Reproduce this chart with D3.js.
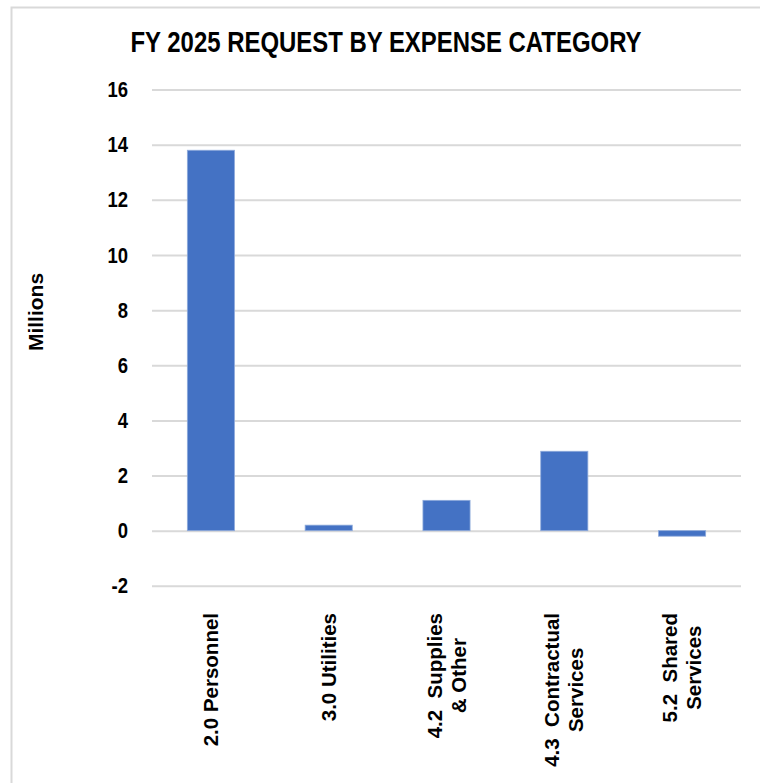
<!DOCTYPE html>
<html>
<head>
<meta charset="utf-8">
<script src="https://cdn.jsdelivr.net/npm/d3@7"></script>
<style>
  html, body { margin: 0; padding: 0; background: #fff; }
  svg { display: block; }
  text { white-space: pre; }
</style>
</head>
<body>
<svg id="chart" width="760" height="783"></svg>
<script>
// FY 2025 request, millions of dollars, by expense category
const categories = [
  ["2.0 Personnel"],
  ["3.0 Utilities"],
  ["4.2  Supplies", "& Other"],
  ["4.3  Contractual", "Services"],
  ["5.2  Shared", "Services"]
];
const values = [13.8, 0.2, 1.1, 2.88, -0.2];
const yTicks = [-2, 0, 2, 4, 6, 8, 10, 12, 14, 16];
const titleText = "FY 2025 REQUEST BY EXPENSE CATEGORY";
const yAxisTitle = "Millions";

const svg = d3.select("#chart");
const W = 760, H = 783;
const plot = { left: 152, right: 741, top: 89.6, bottom: 585.8 };

const narrow = "'Liberation Sans Narrow','Arial Narrow','Liberation Sans',Arial,sans-serif";
const regular = "'Liberation Sans',Arial,Helvetica,sans-serif";

// squeeze a text element horizontally to a condensed width
function condense(sel, factor) {
  sel.each(function () {
    const len = this.getComputedTextLength();
    d3.select(this)
      .attr("textLength", len * factor)
      .attr("lengthAdjust", "spacingAndGlyphs");
  });
}

svg.append("rect").attr("width", W).attr("height", H).attr("fill", "#fff");

// outer frame (left and top edges visible)
svg.append("path")
  .attr("d", `M11.5,${H} V7.5 H${W}`)
  .attr("fill", "none")
  .attr("stroke", "#d9d9d9")
  .attr("stroke-width", 2);

const x = d3.scaleBand()
  .domain(d3.range(categories.length))
  .range([plot.left, plot.right])
  .paddingInner(0.6)
  .paddingOuter(0.3);

const y = d3.scaleLinear()
  .domain([-2, 16])
  .range([plot.bottom, plot.top]);

// horizontal gridlines with value labels
const yAxis = d3.axisLeft(y)
  .tickValues(yTicks)
  .tickSize(-(plot.right - plot.left))
  .tickPadding(24)
  .tickFormat(d => String(d));

const gy = svg.append("g")
  .attr("transform", `translate(${plot.left},0)`)
  .call(yAxis);
gy.select(".domain").remove();
gy.selectAll(".tick line")
  .attr("stroke", "#d9d9d9")
  .attr("stroke-width", 2);
gy.selectAll(".tick text")
  .attr("fill", "#000")
  .style("font-family", narrow)
  .style("font-weight", "bold")
  .style("font-size", "22px")
  .call(condense, 0.84);

// bars
svg.append("g").selectAll("rect")
  .data(values)
  .join("rect")
  .attr("x", (d, i) => x(i))
  .attr("width", x.bandwidth())
  .attr("y", d => y(Math.max(0, d)))
  .attr("height", d => Math.abs(y(d) - y(0)))
  .attr("fill", "#4472c4")
  .attr("stroke", "#8eaadb")
  .attr("stroke-width", 0.8);

// category labels, rotated, lines centred on the longest line
const labelTop = 613;
const labelSize = 20.5;
const lineGap = 24;
const gx = svg.append("g");
categories.forEach((lines, i) => {
  const cx = x(i) + x.bandwidth() / 2;
  const g = gx.append("g");
  const texts = lines.map(ln => g.append("text")
    .text(ln)
    .attr("text-anchor", "middle")
    .style("font-family", regular)
    .style("font-weight", "bold")
    .style("font-size", labelSize + "px")
    .attr("fill", "#000"));
  const maxLen = d3.max(texts, t => t.node().getComputedTextLength());
  const cy = labelTop + maxLen / 2;
  const n = lines.length;
  texts.forEach((t, k) => {
    const off = (k - (n - 1) / 2) * lineGap;
    const px = cx + off + labelSize * 0.35;
    t.attr("transform", `translate(${px},${cy}) rotate(-90)`);
  });
});

// chart title
svg.append("text")
  .attr("x", 386)
  .attr("y", 52)
  .attr("text-anchor", "middle")
  .attr("textLength", 511)
  .attr("lengthAdjust", "spacingAndGlyphs")
  .style("font-family", narrow)
  .style("font-weight", "bold")
  .style("font-size", "29px")
  .attr("fill", "#000")
  .text(titleText);

// value axis title
svg.append("text")
  .attr("transform", `translate(43,312) rotate(-90)`)
  .attr("text-anchor", "middle")
  .style("font-family", regular)
  .style("font-weight", "bold")
  .style("font-size", "21px")
  .attr("fill", "#000")
  .text(yAxisTitle);
</script>
</body>
</html>
